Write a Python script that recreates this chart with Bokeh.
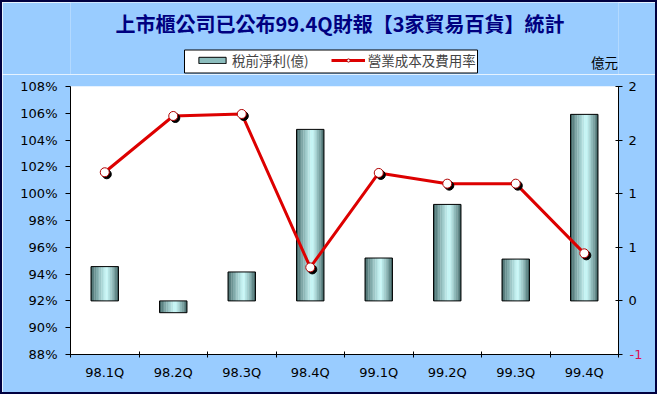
from bokeh.plotting import figure
from bokeh.layouts import column
from bokeh.models import (Range1d, LinearAxis, FixedTicker, PrintfTickFormatter,
                          ColumnDataSource, Legend, LegendItem, Label, BoxAnnotation)
from bokeh.transform import dodge
from bokeh.embed import file_html
from bokeh.resources import INLINE

# ---- data ----
quarters = ["98.1Q", "98.2Q", "98.3Q", "98.4Q", "99.1Q", "99.2Q", "99.3Q", "99.4Q"]
profit = [0.32, -0.11, 0.27, 1.60, 0.40, 0.90, 0.39, 1.74]               # 億元
cost_rate = [101.6, 105.8, 105.95, 94.5, 101.55, 100.75, 100.75, 95.55]  # %
left_ticks = [88, 90, 92, 94, 96, 98, 100, 102, 104, 106, 108]
right_ticks = [-0.5, 0.0, 0.5, 1.0, 1.5, 2.0]
right_labels = ["-1", "0", "1", "1", "2", "2"]
title_text = "上市櫃公司已公布99.4Q財報【3家貿易百貨】統計"
bar_name = "稅前淨利(億)"
line_name = "營業成本及費用率"
unit_text = "億元"

xs = [i + 0.5 for i in range(len(quarters))]
src = ColumnDataSource(dict(x=xs, q=quarters, profit=profit, rate=cost_rate))

BG = "#99CCFF"
NAVY = "#000040"
FONT = "DejaVu Sans"
CJK = "Noto Sans CJK TC"
W_ALL = 653
TOP_H = 72
MAIN_H = 318

# ================= header figure (title, legend, unit) =================
# (its frame is aligned with the main frame by the column layout: page x 70..618)
top = figure(width=W_ALL, height=TOP_H,
             x_range=Range1d(70, 618), y_range=Range1d(2 + TOP_H, 2),
             x_axis_type=None, y_axis_type=None, output_backend="svg", toolbar_location=None,
             min_border=0, background_fill_color=BG, border_fill_color=BG)
top.outline_line_color = None
top.xgrid.visible = False
top.ygrid.visible = False

top.add_layout(Label(x=339.5, y=23, text=title_text, text_font=CJK, text_font_size="20px",
                     text_font_style="bold", text_color="#000080",
                     text_align="center", text_baseline="middle"))
top.add_layout(Label(x=617.5, y=61, text=unit_text, text_font=CJK, text_font_size="13.5px",
                     text_color="black", text_align="right", text_baseline="middle"))
top.add_layout(BoxAnnotation(left=184, right=477, top=49.5, bottom=72.5,
                             fill_color="white", fill_alpha=1, line_color="black",
                             line_width=1, line_alpha=1))

lg_bar = top.vbar(x="x", width=0.4, top="profit", bottom=0, source=src,
                  fill_color="#8CBDBD", line_color="black", line_width=1, visible=False)
lg_line = top.line(x="x", y="rate", source=src, line_color="#DD0000", line_width=3, visible=False)
lg_mark = top.scatter(x="x", y="rate", source=src, size=9, fill_color="white",
                      line_color="#B00000", line_width=1, visible=False)

legend = Legend(items=[LegendItem(label=bar_name, renderers=[lg_bar]),
                       LegendItem(label=line_name, renderers=[lg_line, lg_mark])],
                orientation="horizontal", location=(125, 4))
legend.label_text_font = CJK
legend.label_text_font_size = "13.5px"
legend.glyph_width = 34
legend.glyph_height = 8
legend.label_height = 17
legend.spacing = 22
legend.padding = 0
legend.margin = 0
legend.label_standoff = 3
legend.border_line_color = None
legend.background_fill_alpha = 0
legend.click_policy = "none"
top.add_layout(legend, "center")

# ================= main chart =================
p = figure(width=W_ALL, height=MAIN_H, frame_width=548, frame_height=268,
           x_range=Range1d(0, len(quarters)), y_range=Range1d(88, 108),
           x_axis_type=None, y_axis_type=None,
           output_backend="svg", toolbar_location=None,
           min_border_left=68, min_border_right=37, min_border_top=12, min_border_bottom=38,
           background_fill_color="white", border_fill_color=BG)
p.outline_line_color = None
p.extra_y_ranges = {"r": Range1d(-0.5, 2.0)}

# left axis
la = LinearAxis(ticker=FixedTicker(ticks=left_ticks),
                formatter=PrintfTickFormatter(format="%d%%"))
la.major_label_text_font = FONT
la.major_label_text_font_size = "13px"
la.major_label_text_color = "black"
la.axis_line_color = "black"
la.major_tick_line_color = "black"
la.major_tick_in = 0
la.major_tick_out = 5
la.minor_tick_line_color = None
la.major_label_standoff = 8
p.add_layout(la, "left")

# right axis (black labels)
ra = LinearAxis(y_range_name="r", ticker=FixedTicker(ticks=right_ticks),
                major_label_overrides={t: (l if t >= 0 else "") for t, l in zip(right_ticks, right_labels)})
ra.major_label_text_font = FONT
ra.major_label_text_font_size = "13px"
ra.major_label_text_color = "black"
ra.axis_line_color = "black"
ra.major_tick_line_color = "black"
ra.major_tick_in = 3
ra.major_tick_out = 4
ra.minor_tick_line_color = None
ra.major_label_standoff = 6
p.add_layout(ra, "right")

# second right axis only for the negative label (red)
neg = [t for t in right_ticks if t < 0]
ra2 = LinearAxis(y_range_name="r", ticker=FixedTicker(ticks=neg),
                 major_label_overrides={t: l for t, l in zip(right_ticks, right_labels) if t < 0})
ra2.major_label_text_font = FONT
ra2.major_label_text_font_size = "13px"
ra2.major_label_text_color = "#DD1155"
ra2.axis_line_color = None
ra2.major_tick_line_color = None
ra2.minor_tick_line_color = None
ra2.major_label_standoff = -16
p.add_layout(ra2, "right")

# bottom axis: boundary ticks, then category labels
bounds = list(range(len(quarters) + 1))
xa1 = LinearAxis(ticker=FixedTicker(ticks=bounds),
                 major_label_overrides={b: "" for b in bounds})
xa1.major_label_text_font_size = "1px"
xa1.axis_line_color = "black"
xa1.major_tick_line_color = "black"
xa1.major_tick_in = 3
xa1.major_tick_out = 3
xa1.minor_tick_line_color = None
xa1.major_label_standoff = 0
p.add_layout(xa1, "below")

xa2 = LinearAxis(ticker=FixedTicker(ticks=xs),
                 major_label_overrides={x: q for x, q in zip(xs, quarters)})
xa2.axis_line_color = None
xa2.major_tick_line_color = None
xa2.minor_tick_line_color = None
xa2.major_label_text_font = FONT
xa2.major_label_text_font_size = "13px"
xa2.major_label_text_color = "black"
xa2.major_label_standoff = 1
p.add_layout(xa2, "below")

# grid
p.ygrid.ticker = FixedTicker(ticks=left_ticks)
p.ygrid.grid_line_color = "#C0C0C0"
p.xgrid.grid_line_color = None

# bars with simulated gradient
W = 0.4
N = 16
dark = (45, 80, 80)
light = (205, 252, 252)
peak = 0.57
for k in range(N):
    t = (k + 0.5) / N
    f = 1 - abs(t - peak) / (peak if t < peak else 1 - peak)
    f = max(0.0, min(1.0, f)) ** 0.7
    c = tuple(int(dark[i] + (light[i] - dark[i]) * f) for i in range(3))
    col = "#%02x%02x%02x" % c
    off = -W / 2 + t * W
    p.vbar(x=dodge("x", off), width=W / N * 1.15, top="profit", bottom=0,
           source=src, y_range_name="r", fill_color=col, line_color=None)
p.vbar(x="x", width=W, top="profit", bottom=0, source=src, y_range_name="r",
       fill_alpha=0, line_color="black", line_width=1)

# line
p.line(x="x", y="rate", source=src, line_color="#DD0000", line_width=3)
p.scatter(x=dodge("x", 0.03), y=dodge("rate", -0.15), source=src, size=9,
          fill_color="black", line_color="black")
p.scatter(x="x", y="rate", source=src, size=9, fill_color="white",
          line_color="#B00000", line_width=1)

layout = column(top, p, spacing=0, styles={"border": "2px solid " + NAVY})

open("out.html", "w").write(file_html(layout, INLINE))
